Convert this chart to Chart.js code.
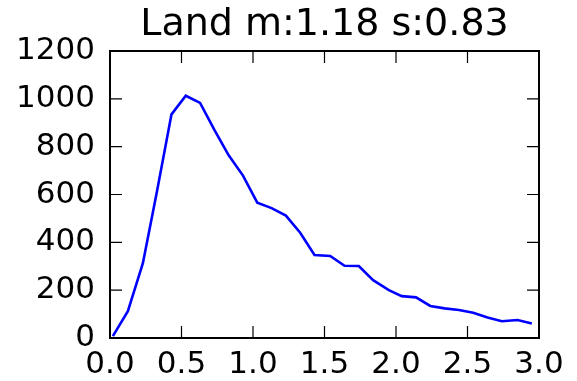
<!DOCTYPE html>
<html>
<head>
<meta charset="utf-8">
<script src="https://cdn.jsdelivr.net/npm/chart.js@4/dist/chart.umd.min.js"></script>
<style>
  html, body { margin: 0; padding: 0; background: #fff; }
  #wrap { width: 577px; height: 381px; }
</style>
</head>
<body>
<div id="wrap"><canvas id="landChart" width="577" height="381"></canvas></div>
<script>
// values
const titleText = 'Land m:1.18 s:0.83';
const xValues = [0.02, 0.125, 0.23, 0.33, 0.43, 0.53, 0.63, 0.73, 0.83, 0.93,
                 1.03, 1.13, 1.23, 1.33, 1.43, 1.54, 1.64, 1.74, 1.84, 1.95,
                 2.04, 2.14, 2.24, 2.34, 2.44, 2.54, 2.64, 2.74, 2.85, 2.95];
const counts = [8, 112, 313, 618, 935, 1013, 983, 870, 764, 679,
                566, 543, 512, 440, 347, 343, 302, 301, 242, 200,
                175, 170, 134, 124, 117, 106, 86, 70, 75, 61];
const xTicks = [0, 0.5, 1.0, 1.5, 2.0, 2.5, 3.0];
const yTicks = [0, 200, 400, 600, 800, 1000, 1200];

const points = xValues.map((x, i) => ({ x: x, y: counts[i] }));

// matplotlib classic look: black frame, ticks pointing inwards on all four sides
const frameTicks = {
    id: 'frameTicks',
    afterDatasetsDraw(chart) {
        const ctx = chart.ctx;
        const area = chart.chartArea;
        const xs = chart.scales.x;
        const ys = chart.scales.y;
        const len = 12;
        ctx.save();
        ctx.strokeStyle = '#000';
        ctx.lineWidth = 1.2;
        ctx.beginPath();
        xTicks.forEach(v => {
            const px = xs.getPixelForValue(v);
            ctx.moveTo(px, area.bottom);
            ctx.lineTo(px, area.bottom - len);
            ctx.moveTo(px, area.top);
            ctx.lineTo(px, area.top + len);
        });
        yTicks.forEach(v => {
            const py = ys.getPixelForValue(v);
            ctx.moveTo(area.left, py);
            ctx.lineTo(area.left + len, py);
            ctx.moveTo(area.right, py);
            ctx.lineTo(area.right - len, py);
        });
        ctx.stroke();
        ctx.lineWidth = 2;
        ctx.strokeRect(area.left, area.top, area.right - area.left, area.bottom - area.top);
        ctx.restore();
    }
};

const fontFamily = '"DejaVu Sans", sans-serif';

new Chart(document.getElementById('landChart').getContext('2d'), {
    type: 'line',
    data: {
        datasets: [{
            data: points,
            borderColor: '#0000ff',
            borderWidth: 2.6,
            pointRadius: 0,
            tension: 0,
            fill: false
        }]
    },
    options: {
        responsive: false,
        animation: false,
        layout: { padding: { left: 0, right: 38, top: 0, bottom: 0 } },
        plugins: {
            legend: { display: false },
            tooltip: { enabled: false },
            title: {
                display: true,
                fullSize: false, // centre over the plot, like matplotlib
                text: titleText,
                color: '#000',
                font: { family: fontFamily, size: 38, weight: 'normal' },
                padding: { top: 2, bottom: 3.4 }
            }
        },
        scales: {
            x: {
                type: 'linear',
                min: 0,
                max: 3,
                afterFit: s => { s.height = 43; },
                afterBuildTicks: s => { s.ticks = xTicks.map(v => ({ value: v })); },
                grid: { display: false, drawTicks: false },
                border: { display: false },
                ticks: {
                    color: '#000',
                    padding: 8,
                    maxRotation: 0,
                    font: { family: fontFamily, size: 31 },
                    callback: v => v.toFixed(1)
                }
            },
            y: {
                min: 0,
                max: 1200,
                afterFit: s => { s.width = 110; },
                afterBuildTicks: s => { s.ticks = yTicks.map(v => ({ value: v })); },
                grid: { display: false, drawTicks: false },
                border: { display: false },
                ticks: {
                    color: '#000',
                    padding: 15,
                    font: { family: fontFamily, size: 31 },
                    callback: v => String(v)
                }
            }
        }
    },
    plugins: [frameTicks]
});
</script>
</body>
</html>
